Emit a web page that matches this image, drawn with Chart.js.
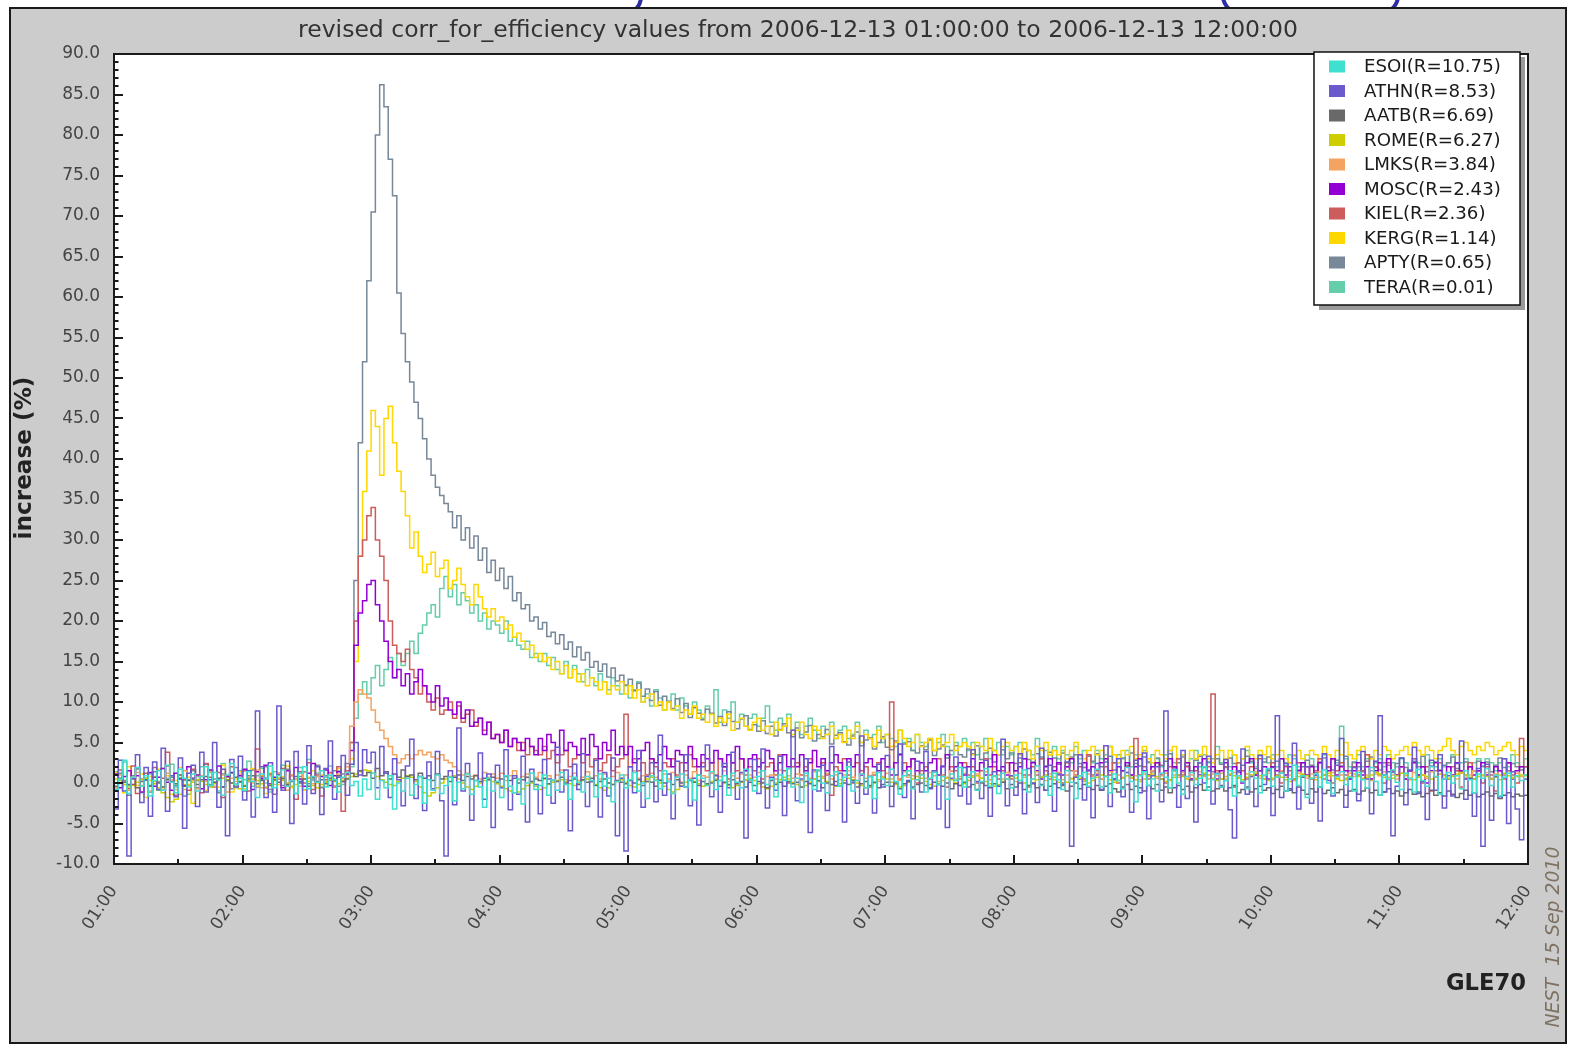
<!DOCTYPE html>
<html><head><meta charset="utf-8">
<script src="https://cdn.jsdelivr.net/npm/chart.js@4.4.0/dist/chart.umd.min.js"></script>
<style>html,body{margin:0;padding:0;background:#fff;overflow:hidden}canvas{display:block}</style>
</head><body>
<canvas id="c" width="1572" height="1047"></canvas>
<script>
// ---- data (one value every 2 minutes from 01:00 to 12:00) ----
const STEP_MIN = 2;
const hourLabels = ['01:00','02:00','03:00','04:00','05:00','06:00','07:00','08:00','09:00','10:00','11:00','12:00'];
const stationNames = ['ESOI','ATHN','AATB','ROME','LMKS','MOSC','KIEL','KERG','APTY','TERA'];
const stationR = ['10.75','8.53','6.69','6.27','3.84','2.43','2.36','1.14','0.65','0.01'];
const stationColors = ['#40E0D0','#6A5ACD','#696969','#CDCD00','#F4A460','#9400D3','#CD5C5C','#FFD700','#778899','#66CDAA'];

const ESOI = [1.2,-0.8,0.5,2.8,-1.3,0.7,1.9,-0.4,0.9,-1.6,
0.3,1.5,-0.9,2.2,0.1,-1.2,1.7,0.6,-0.5,1.1,
-1.0,0.8,2.0,-0.3,1.3,0.4,-1.5,1.0,2.4,-0.2,
0.6,-0.9,1.4,0.2,-1.8,1.1,0.5,2.1,-0.6,0.9,
1.6,-0.4,0.3,-1.3,1.2,2.0,-0.7,0.8,0.1,1.5,
-0.5,1.0,0.4,-1.1,0.7,1.3,-0.3,0.2,-1.6,0.5,
-0.8,1.2,-2.0,0.3,-0.6,0.9,-3.2,0.0,-1.0,0.6,
-1.5,-0.2,0.8,-2.5,0.4,-0.9,1.0,-1.3,-0.3,0.7,
-2.2,0.1,-0.7,1.1,-1.4,0.3,-0.5,-3.0,0.6,-1.0,
0.2,-1.8,0.9,-0.4,-1.2,0.5,-2.6,0.0,1.2,-0.8,
-0.3,1.0,-1.5,0.4,-0.9,1.3,-0.2,-2.0,0.7,0.1,
-1.1,0.8,0.3,-1.7,1.1,-0.4,0.6,-2.3,0.2,1.0,
-0.6,0.4,1.3,-1.0,0.0,-1.9,0.9,0.3,-0.7,1.5,
0.2,-1.3,0.7,1.1,-0.5,0.4,-2.1,1.0,0.6,-0.3,
1.4,-0.8,0.3,0.9,-1.5,1.2,0.1,-0.6,1.7,0.4,
-1.0,0.8,1.5,-0.2,0.5,-1.7,1.0,0.3,1.8,-0.5,
0.6,-2.4,1.2,0.4,-0.8,1.6,0.0,-1.2,0.9,1.4,
-0.4,0.7,2.0,-1.0,0.3,1.1,-0.6,0.8,-1.9,1.3,
0.5,-0.3,1.7,0.2,-1.4,0.9,1.5,-0.7,0.4,1.0,
-1.1,0.6,1.3,-0.2,0.8,-2.0,1.1,0.3,1.9,-0.5,
0.7,1.4,-0.9,0.2,1.8,-0.4,0.9,-1.3,1.2,0.5,
-0.6,1.0,0.3,1.6,-1.1,0.5,2.1,-0.3,0.8,-1.5,
1.2,0.4,-0.8,1.5,0.1,-1.9,0.9,1.3,-0.4,0.6,
1.7,-0.5,0.8,-1.2,1.1,0.3,-0.7,1.9,0.2,-2.3,
0.9,1.4,-0.3,0.5,-1.0,1.2,0.7,-0.6,1.6,0.0,
-1.4,0.8,1.3,-0.2,0.6,2.0,-0.9,0.4,1.1,-0.5,
0.3,1.5,-1.6,0.9,0.2,-0.7,1.4,0.6,-1.2,1.0,
1.8,-0.4,0.7,1.2,-1.0,0.5,2.2,-0.3,0.9,-1.8,
0.6,1.1,-0.5,1.6,0.0,-1.3,0.8,1.4,-0.2,0.7,
-1.0,1.3,0.4,-0.6,1.9,0.2,-1.5,1.0,0.5,1.6,
0.1,-0.8,1.2,0.6,-1.1,1.7,0.3,-0.4,2.0,0.8,
-1.4,0.5,1.3,0.0,0.9,-0.7,1.5,0.4,-1.2,1.1,
0.6,1.8,-0.3,1.0,-1.6,0.7,1.2,-0.5,0.9,0.3,
1.0];

const ATHN = [1.5,-3.2,2.8,-1.0,-9.0,0.6,3.5,-2.4,1.9,-4.1,
2.6,-0.8,4.3,-3.5,0.9,-1.7,3.1,-5.6,1.2,2.2,
-2.9,3.8,-1.1,0.4,5.0,-3.0,1.7,-6.5,2.9,-0.5,
3.3,-2.1,1.5,-4.2,8.9,2.0,-1.8,2.5,-3.6,9.5,
-0.9,2.7,-5.0,3.9,0.2,-2.6,4.6,-1.3,2.0,-3.9,
1.8,5.2,-2.0,0.7,3.4,-1.5,2.3,5.0,1.0,4.1,
2.5,3.8,-0.6,4.5,1.2,-1.8,3.0,0.4,-2.8,2.1,
5.4,-1.9,0.8,-3.4,2.6,-0.7,3.9,-2.2,-9.0,1.5,
-2.7,6.8,-1.0,2.4,-4.6,0.3,3.7,-2.0,1.1,-5.5,
2.2,-0.6,4.1,-3.3,0.9,-1.4,3.3,-4.8,1.7,-0.2,
-3.8,2.9,0.5,-2.5,4.4,-1.1,1.6,-5.9,2.3,-0.8,
3.6,-2.9,0.2,2.8,-4.2,1.3,-1.6,3.1,-6.5,0.6,
-8.4,2.0,-1.2,4.0,-3.0,0.8,2.5,-2.3,5.9,-1.5,
1.1,-4.4,2.7,-0.4,3.5,-2.8,0.6,-5.2,2.0,4.7,
-1.7,0.9,-3.6,2.4,-0.6,3.8,-2.0,1.3,-6.8,0.4,
2.9,-1.3,4.2,-3.1,0.7,-0.9,3.3,-4.0,1.8,6.5,
-2.2,0.5,3.0,-6.1,1.6,-1.0,2.2,-3.4,4.5,-0.3,
1.2,-4.8,2.6,0.1,-2.5,5.8,-1.4,0.8,-3.7,2.3,
-0.5,3.4,-2.9,1.0,4.8,-1.8,0.3,-4.4,2.7,-1.1,
3.9,-0.7,1.5,-3.2,2.1,-5.5,0.6,3.2,-1.6,1.9,
-2.6,4.1,0.2,-1.9,2.8,-4.1,1.4,-0.4,5.4,-2.8,
0.9,-1.5,3.6,-3.8,1.8,0.0,-2.4,4.3,-0.9,2.2,
-3.5,1.1,-0.2,2.6,-7.8,0.7,3.5,-2.1,1.6,-4.3,
2.4,-0.8,4.6,-2.9,0.5,3.0,-1.7,1.3,-3.6,2.8,
-1.2,3.7,-4.4,0.9,2.0,-2.3,8.9,-0.6,1.7,-3.0,
4.0,-1.9,0.4,-4.8,2.5,0.0,3.3,-2.6,1.2,-0.5,
2.9,-3.3,-6.8,1.5,4.2,-1.4,0.8,-2.9,3.4,-0.2,
1.6,-4.0,8.3,-1.8,2.4,-0.9,4.9,-3.2,0.7,2.0,
-2.5,1.0,-4.7,3.6,0.3,-1.6,2.2,5.5,-3.0,0.6,
1.9,-2.2,3.9,0.5,-3.8,2.7,8.3,-1.1,1.4,-6.5,
-0.4,3.1,-2.7,1.6,4.4,-1.3,0.2,-4.5,2.8,-0.9,
3.5,-3.1,0.9,-1.6,2.4,5.2,-2.0,0.6,-4.1,1.8,
-7.8,2.3,-4.6,0.8,-1.7,3.0,-5.0,1.4,-3.2,-7.0,
0.5];

const AATB = [0.3,-0.4,0.6,0.1,-0.2,0.5,-0.6,0.2,0.4,-0.3,
0.7,0.0,-0.5,0.4,0.2,-0.1,0.6,-0.4,0.3,0.5,
-0.2,0.4,0.8,-0.3,0.1,0.6,-0.5,0.3,0.0,0.7,
0.2,-0.4,0.5,0.9,-0.1,0.3,0.6,-0.3,0.4,0.1,
0.6,-0.2,0.3,0.8,0.0,0.5,-0.4,0.7,0.2,0.4,
-0.1,0.6,0.3,0.9,0.2,0.5,1.2,0.8,1.5,0.9,
1.3,0.6,1.8,0.9,1.4,0.5,1.1,0.7,1.6,0.8,
1.0,0.4,1.2,0.6,0.9,0.3,1.1,0.5,0.8,0.2,
0.7,1.0,0.3,0.8,0.5,0.9,0.2,0.6,0.4,0.7,
0.1,0.5,0.8,0.3,0.6,0.0,0.4,0.7,0.2,0.5,
0.3,0.6,-0.1,0.4,0.2,0.7,0.0,0.3,0.5,-0.2,
0.4,0.1,0.6,-0.3,0.2,0.5,0.0,-0.2,0.3,0.1,
-0.1,0.3,0.0,0.4,-0.3,0.2,0.1,-0.4,0.3,0.0,
0.2,-0.2,0.4,0.0,-0.5,0.3,0.1,-0.3,0.2,-0.1,
0.0,0.3,-0.4,0.1,-0.2,0.4,-0.1,0.2,-0.5,0.1,
-0.3,0.2,0.0,-0.6,0.3,-0.2,0.1,-0.4,0.2,-0.1,
0.1,-0.5,0.2,-0.1,-0.3,0.3,-0.6,0.0,-0.2,0.2,
-0.4,0.0,-0.2,0.3,-0.5,-0.1,0.2,-0.3,0.1,-0.6,
-0.2,0.1,-0.4,0.0,-0.7,-0.1,0.2,-0.5,-0.2,0.0,
-0.3,-0.6,0.1,-0.2,-0.4,0.0,-0.7,-0.1,-0.3,0.1,
-0.5,-0.2,-0.8,0.0,-0.3,-0.6,-0.1,-0.4,0.1,-0.7,
-0.2,-0.5,0.0,-0.8,-0.3,-0.1,-0.6,-0.2,-0.9,-0.4,
-0.1,-0.6,-0.3,-1.0,-0.4,0.0,-0.7,-0.2,-0.5,-0.8,
-0.3,-0.9,-0.4,-0.1,-0.7,-1.1,-0.5,-0.2,-0.8,-0.4,
-0.6,-1.0,-0.3,-0.7,-0.2,-0.9,-0.5,-1.2,-0.6,-0.3,
-0.8,-0.4,-1.1,-0.6,-0.2,-0.9,-0.5,-1.0,-0.7,-0.3,
-1.0,-0.6,-0.3,-1.2,-0.8,-0.5,-1.1,-0.7,-0.4,-0.9,
-0.6,-1.3,-0.8,-0.4,-1.0,-0.7,-1.2,-0.5,-0.9,-1.4,
-0.7,-1.1,-0.5,-1.3,-0.9,-0.6,-1.2,-0.8,-1.5,-1.0,
-0.8,-1.4,-1.0,-0.6,-1.2,-0.9,-1.5,-1.1,-0.7,-1.3,
-1.0,-1.6,-1.2,-0.8,-1.4,-1.1,-1.7,-1.3,-0.9,-1.5,
-1.2,-1.6,-1.0,-1.4,-1.8,-1.3,-0.9,-1.5,-1.2,-1.7,
-1.4,-1.1,-1.6,-1.3,-1.9,-1.5,-1.2,-1.7,-1.4,-1.6,
-1.5];

const ROME = [0.2,0.5,0.3,-0.2,-0.5,-0.3,0.1,0.4,0.6,0.3,
-0.1,-0.6,-1.2,-1.8,-2.3,-2.0,-1.4,-0.8,-0.3,0.1,
0.4,0.2,-0.2,-0.5,-0.1,0.3,0.6,0.4,0.0,-0.4,
-0.7,-0.3,0.2,0.5,0.3,-0.1,-0.5,-0.2,0.3,0.6,
0.4,0.0,-0.4,-0.2,0.2,0.5,0.2,-0.3,-0.6,-0.2,
0.1,0.4,0.2,-0.1,0.3,0.6,0.8,1.1,1.4,1.6,
1.5,1.2,0.8,0.4,0.1,-0.2,-0.3,0.2,0.6,0.9,
0.7,0.2,-0.5,-1.2,-1.6,-1.2,-0.6,0.0,0.5,0.8,
0.9,0.5,0.0,-0.5,-0.8,-0.4,0.0,0.3,0.4,0.2,
-0.1,-0.4,-0.7,-1.0,-1.2,-1.1,-0.7,-0.3,0.0,-0.4,
-0.8,-0.6,-0.2,0.1,0.3,0.4,0.2,-0.1,-0.3,0.0,
0.3,0.5,0.2,-0.2,-0.6,-0.9,-0.6,-0.2,0.2,0.4,
0.1,-0.3,-0.5,-0.2,0.2,0.5,0.7,0.4,0.0,-0.4,
-0.8,-1.1,-0.8,-0.3,0.1,0.4,0.2,-0.1,-0.4,-0.2,
0.2,0.5,0.3,0.0,-0.3,-0.6,-0.3,0.1,0.4,0.6,
0.3,-0.1,-0.5,-0.7,-0.4,0.0,0.4,0.7,0.5,0.1,
-0.2,-0.5,-0.3,0.1,0.5,0.8,0.6,0.2,-0.2,-0.4,
-0.1,0.3,0.6,0.4,0.0,-0.3,-0.6,-0.4,0.0,0.4,
0.7,0.5,0.1,-0.2,-0.5,-0.3,0.1,0.5,0.8,0.6,
0.2,-0.2,-0.4,-0.1,0.3,0.6,0.4,0.0,-0.3,-0.1,
0.3,0.7,0.9,0.6,0.2,-0.1,-0.4,-0.2,0.2,0.5,
0.8,0.6,0.3,0.0,-0.3,0.0,0.4,0.7,1.0,0.8,
0.4,0.1,-0.2,0.1,0.5,0.8,0.6,0.3,0.0,0.3,
0.7,1.0,0.8,0.4,0.1,0.3,0.6,0.9,0.7,0.4,
0.2,0.5,0.9,1.1,0.8,0.5,0.2,0.4,0.7,1.0,
0.8,0.5,0.3,0.6,0.9,1.2,1.0,0.6,0.3,0.5,
0.8,1.1,0.9,0.6,0.4,0.7,1.0,1.2,0.9,0.5,
0.3,0.6,0.9,0.7,0.4,0.2,0.5,0.8,1.1,0.9,
0.6,0.4,0.7,1.0,1.2,0.9,0.5,0.3,0.6,0.8,
1.1,0.8,0.5,0.7,1.0,1.3,1.1,0.7,0.4,0.6,
0.9,1.2,1.0,0.6,0.4,0.7,1.0,0.8,0.5,0.8,
1.1,0.9,0.6,0.8,1.1,1.3,1.0,0.7,0.5,0.8,
1.0,0.8,0.5,0.7,1.0,1.2,0.9,0.6,0.8,1.0,
0.9];

const LMKS = [0.4,-0.6,1.0,0.2,-0.9,0.7,1.3,-0.3,0.5,-1.0,
0.8,0.1,-0.5,1.2,0.4,-0.8,0.6,1.5,-0.2,0.3,
-0.7,0.9,0.2,1.4,-0.4,0.5,1.0,-1.1,0.6,0.2,
1.1,-0.3,0.7,0.0,1.6,-0.6,0.4,0.9,-0.2,1.2,
0.3,-0.9,1.0,0.5,-0.4,1.3,0.6,-0.1,0.8,1.5,
0.2,0.9,-0.3,1.1,0.6,2.0,7.0,10.0,11.5,11.0,
10.5,9.0,7.5,6.5,5.5,4.5,3.5,2.5,3.0,3.5,
3.0,3.5,4.0,3.5,3.8,3.2,3.0,3.5,2.8,2.5,
2.0,1.5,1.0,1.2,0.8,1.0,0.5,1.3,0.7,1.1,
0.6,1.2,0.3,0.9,1.5,0.4,0.8,1.1,0.2,0.7,
1.3,0.5,0.9,0.1,1.0,1.6,0.4,0.8,1.2,0.3,
0.7,1.4,0.2,0.9,0.5,1.1,0.0,0.8,1.3,0.6,
1.0,0.3,1.5,0.6,0.9,0.2,1.2,0.7,0.4,1.1,
0.5,1.3,0.8,0.1,1.0,0.6,1.4,0.3,0.9,0.7,
1.2,0.4,0.8,1.5,0.2,0.9,0.6,1.1,0.3,1.0,
0.7,1.3,0.1,0.8,1.0,0.5,1.6,0.4,0.9,0.6,
1.1,0.3,0.9,0.6,1.4,0.2,0.8,1.2,0.5,1.0,
0.4,1.0,1.5,0.7,0.3,1.1,0.6,0.9,1.3,0.2,
0.8,1.2,0.5,1.0,0.3,1.4,0.7,0.9,0.4,1.1,
0.6,1.3,0.9,0.2,1.0,0.7,1.5,0.5,0.8,1.2,
0.3,0.9,1.1,0.6,1.4,0.4,0.8,1.0,0.5,1.3,
0.9,0.2,1.2,0.7,1.0,0.5,1.4,0.8,0.3,1.1,
0.7,1.3,0.4,1.0,0.6,1.5,0.9,0.2,1.1,0.8,
1.2,0.5,0.9,1.4,0.3,1.0,0.7,1.3,0.6,0.9,
0.4,1.1,0.8,1.5,0.6,0.9,1.2,0.3,1.0,0.7,
1.3,0.6,1.0,0.4,1.4,0.8,0.5,1.1,0.9,1.2,
0.5,1.0,1.3,0.7,0.2,1.1,0.8,1.4,0.6,0.9,
1.2,0.4,0.9,1.5,0.7,1.0,0.3,1.2,0.8,0.6,
1.1,0.7,1.4,0.5,0.9,1.3,0.6,1.0,0.4,1.2,
0.8,1.5,0.6,1.0,0.3,1.1,0.9,1.4,0.7,1.0,
0.5,1.2,0.9,0.4,1.3,0.8,1.0,0.6,1.4,0.7,
1.1,0.6,1.3,0.9,0.5,1.2,0.7,1.0,1.5,0.8,
0.9,1.3,0.6,1.1,0.4,1.0,1.4,0.7,1.2,0.8,
1.0];

const MOSC = [0.3,1.1,-0.6,0.8,1.5,-0.2,0.9,-1.1,0.4,1.3,
-0.4,0.7,1.8,0.1,-0.9,1.2,0.5,-0.3,2.0,0.6,
1.0,-0.7,0.4,1.6,0.0,2.1,-0.5,0.8,1.3,-0.2,
0.9,1.7,0.2,-0.8,1.4,0.6,2.2,-0.1,0.7,1.0,
-0.6,1.5,0.3,1.9,0.5,-0.4,1.2,2.4,0.1,0.8,
1.6,-0.3,0.9,1.4,0.2,1.1,4.0,17.0,21.0,22.5,
24.5,25.0,22.0,20.0,17.5,15.0,13.0,14.0,12.0,13.5,
11.0,12.5,14.0,12.0,11.0,10.0,12.0,9.5,10.5,9.0,
8.5,10.0,8.0,9.0,7.0,7.5,8.0,6.0,7.5,5.5,
6.0,5.0,6.5,4.5,5.5,5.0,4.0,5.5,4.5,3.5,
5.5,4.0,6.0,5.0,3.5,6.5,4.0,5.0,4.5,3.5,
5.5,3.5,6.0,4.5,3.0,5.0,4.0,6.5,3.5,4.5,
3.5,4.5,2.5,3.0,4.0,5.0,3.0,2.5,3.5,4.5,
3.0,2.0,4.0,3.5,2.5,4.5,3.0,2.0,3.5,3.0,
2.5,4.0,3.0,2.0,3.5,2.5,4.5,3.0,1.5,3.0,
3.5,2.0,2.5,4.0,3.0,1.5,2.5,3.5,2.0,3.0,
2.0,3.5,1.5,2.5,4.0,2.0,3.0,1.5,2.5,3.5,
2.5,1.5,3.0,2.0,3.5,1.0,2.5,3.0,2.0,1.5,
3.0,2.0,1.0,2.5,3.5,1.5,2.0,3.0,1.5,2.5,
1.5,2.5,3.0,1.0,2.0,3.5,1.5,2.0,2.5,1.0,
2.0,3.0,1.5,2.5,1.0,2.0,3.5,1.5,2.0,1.0,
2.5,1.5,2.0,3.0,1.0,2.5,1.5,0.5,2.0,3.0,
1.5,2.5,1.0,2.0,3.0,1.5,0.5,2.5,1.5,2.0,
1.0,2.5,3.0,1.5,0.5,2.0,1.5,2.5,1.0,2.0,
3.0,1.5,1.0,2.0,2.5,0.5,1.5,3.0,2.0,1.0,
1.5,2.5,0.5,2.0,1.0,3.0,1.5,2.0,0.5,1.5,
2.5,1.0,2.0,1.5,0.0,2.5,3.0,1.0,1.5,2.0,
0.5,2.0,1.5,3.0,1.0,2.0,0.5,1.5,2.5,1.0,
2.0,1.0,2.5,0.5,1.5,3.0,1.0,2.0,1.5,0.5,
1.5,2.5,1.0,2.0,0.5,1.5,2.5,1.0,3.0,1.5,
1.0,2.0,0.5,1.5,2.5,1.0,2.0,0.0,1.5,2.5,
1.5,0.5,2.0,1.0,2.5,1.5,0.5,2.0,1.0,1.5,
2.5,1.0,0.5,2.0,1.5,1.0,2.5,0.5,1.5,2.0,
1.0];

const KIEL = [0.8,-1.0,1.6,0.2,-0.7,2.1,-1.3,0.5,1.2,-0.4,
1.9,-0.8,0.6,3.8,0.1,-1.5,1.0,0.4,-0.9,1.7,
0.3,-1.2,2.4,0.7,-0.5,1.3,-1.8,0.9,2.0,-0.2,
0.6,1.5,-1.0,0.2,4.2,0.8,-0.6,1.1,-1.4,0.5,
1.8,-0.3,0.9,-2.0,1.4,0.0,2.5,-0.8,1.0,-1.6,
0.4,1.3,-0.5,2.0,-3.5,1.5,5.0,20.0,28.0,30.0,
33.0,34.0,30.0,28.0,25.0,20.0,17.0,16.0,15.0,16.5,
14.0,13.0,11.0,12.0,10.0,9.0,10.5,8.5,9.0,10.0,
8.0,9.5,7.5,8.5,9.0,7.0,8.0,6.5,7.5,5.5,
6.0,5.0,6.5,4.5,5.5,4.0,5.0,3.5,4.5,4.0,
3.5,4.5,3.0,4.0,2.5,3.5,4.0,2.0,3.0,3.5,
2.5,3.5,2.0,3.0,1.5,2.5,3.5,1.5,2.0,3.0,
8.5,2.0,3.0,1.5,2.5,1.0,3.0,2.0,1.5,2.5,
2.0,3.0,1.0,2.5,1.5,3.5,2.0,1.0,2.5,1.5,
2.5,1.0,3.0,2.0,0.5,2.5,1.5,3.0,1.0,2.0,
1.5,3.0,0.5,2.0,2.5,1.0,3.5,1.5,0.0,2.0,
2.5,1.0,2.0,3.0,0.5,1.5,2.5,1.0,-1.5,2.0,
1.5,3.0,1.0,0.0,2.5,1.5,2.0,-0.5,1.0,2.5,
1.5,2.0,10.0,1.0,0.5,2.5,1.0,3.0,0.0,1.5,
2.0,0.5,1.5,3.0,1.0,-0.5,2.0,1.5,0.5,2.5,
1.0,2.0,0.0,1.5,3.0,1.0,2.0,0.5,1.5,2.5,
0.5,1.5,2.5,1.0,-0.5,2.0,1.0,3.0,1.5,0.5,
2.0,1.0,0.0,2.5,1.5,1.0,2.0,0.5,3.5,1.0,
1.5,0.5,2.0,1.0,2.5,0.0,1.5,2.0,1.0,5.5,
1.0,2.0,0.5,1.5,2.5,1.0,0.0,2.0,1.5,3.0,
1.0,2.0,0.5,1.5,2.5,1.0,2.0,11.0,1.5,0.5,
2.0,1.0,-0.5,2.5,1.5,0.5,2.0,1.0,3.0,0.5,
1.5,2.5,1.0,0.0,2.0,1.5,0.5,2.5,1.0,2.0,
0.5,1.5,3.0,1.0,2.0,0.0,1.5,2.5,1.0,0.5,
2.0,1.0,1.5,3.5,0.5,2.0,1.0,0.0,2.5,1.5,
1.0,2.0,0.5,1.5,3.0,1.0,0.0,2.0,-1.0,1.5,
2.5,1.0,0.5,2.0,1.5,-0.5,1.0,2.5,0.5,1.5,
0.0,2.0,1.0,-1.0,1.5,0.5,2.5,1.0,0.0,5.5,
2.0];

const KERG = [-0.5,1.3,0.4,-1.2,2.0,0.6,-0.3,1.1,-1.8,0.8,
0.2,1.7,-0.6,0.9,-1.4,0.3,1.9,-0.2,0.7,-2.5,
1.0,0.4,-0.9,1.6,0.1,-0.5,2.2,0.8,-1.1,0.5,
1.4,-0.7,0.3,1.8,-0.4,0.9,-1.3,1.2,0.6,-0.2,
0.8,2.1,-0.6,0.4,1.3,-0.9,0.7,1.5,0.0,1.0,
-0.4,1.2,0.5,1.8,0.3,1.0,3.0,15.0,28.0,36.0,
41.0,46.0,44.0,38.0,45.0,46.5,42.0,38.5,36.0,33.0,
29.0,31.0,28.0,26.0,27.0,28.5,25.5,26.5,27.5,24.0,
25.0,26.5,24.5,23.0,22.0,24.5,23.0,21.5,20.5,21.5,
20.0,20.5,19.0,19.5,18.0,18.5,17.5,16.5,17.0,15.5,
16.0,15.0,15.5,14.0,15.0,13.5,14.5,13.0,14.0,12.5,
13.5,12.0,13.0,12.5,11.5,12.5,11.0,12.0,11.5,12.5,
11.0,12.0,10.5,11.5,10.0,10.5,11.0,9.5,10.0,9.0,
10.0,9.0,9.5,8.0,9.0,8.5,9.5,8.0,8.5,7.5,
8.5,7.0,8.0,7.5,8.5,6.5,7.5,8.0,7.0,6.5,
7.5,8.0,6.5,7.0,6.0,7.5,6.5,7.0,8.0,6.0,
6.5,7.5,6.0,5.5,7.0,6.5,5.5,6.0,7.0,5.5,
6.0,5.0,6.5,5.5,7.0,5.0,6.0,5.5,4.5,6.5,
5.5,6.0,4.5,5.0,6.5,5.5,4.5,5.0,6.0,4.5,
5.0,5.5,4.0,5.5,4.5,5.0,6.0,4.0,4.5,5.0,
4.5,3.5,5.0,4.5,4.0,5.5,4.0,3.5,4.5,5.0,
4.0,4.5,3.5,5.0,4.0,3.0,4.5,4.0,5.0,3.5,
4.0,3.5,4.5,3.0,4.0,5.0,3.5,3.0,4.0,4.5,
3.5,4.0,3.0,4.5,3.5,2.5,4.0,3.5,4.5,3.0,
3.5,4.5,3.0,2.5,4.0,3.5,3.0,4.0,4.5,3.0,
3.5,2.5,4.0,3.0,3.5,4.5,3.0,2.5,3.5,4.0,
3.0,4.0,3.5,2.5,3.0,4.5,3.5,3.0,4.0,3.5,
4.5,3.0,3.5,4.0,3.0,2.5,3.5,4.0,3.0,3.5,
4.0,3.5,3.0,4.5,3.5,3.0,4.0,3.5,5.0,3.5,
3.0,4.0,4.5,3.5,3.0,4.0,3.5,4.5,4.0,3.0,
3.5,4.0,4.5,3.5,5.0,4.0,3.5,4.5,4.0,3.0,
4.0,4.5,5.5,4.0,3.5,4.5,5.0,4.0,3.5,4.5,
4.0,5.0,4.5,3.5,4.0,4.5,5.0,4.0,3.5,4.5,
4.0];

const APTY = [0.5,-0.8,1.2,0.3,-1.5,0.9,1.8,-0.4,0.6,-1.1,
1.4,0.2,-0.9,2.1,0.7,-0.3,1.0,-1.6,0.4,1.5,
-0.6,0.8,2.3,-0.2,0.5,-1.2,1.1,0.3,-0.7,1.9,
0.1,-1.0,0.9,1.6,-0.5,0.4,2.0,-0.8,0.6,1.2,
-0.3,1.7,0.2,-1.3,0.8,1.4,-0.1,0.5,2.2,-0.6,
0.9,0.3,1.5,-0.4,1.1,2.4,5.0,25.0,42.0,52.0,
62.0,70.5,80.0,86.2,83.5,77.0,72.5,60.5,55.5,52.0,
49.5,47.0,45.0,42.5,40.0,38.0,36.5,35.5,34.5,33.5,
31.5,33.0,30.0,31.5,29.0,30.5,27.5,29.0,26.0,27.5,
25.0,26.5,24.0,25.5,22.5,23.5,21.5,22.0,20.0,20.5,
19.0,19.8,18.1,18.6,17.2,18.3,16.5,17.4,15.6,16.8,
15.2,16.1,14.3,15.0,13.8,14.7,13.1,14.2,12.6,13.3,
12.1,12.8,11.4,12.3,10.7,11.6,10.2,11.3,9.6,10.7,
10.1,9.2,10.4,8.7,9.8,8.1,9.3,8.6,7.8,9.1,
8.6,7.4,8.2,7.1,8.8,7.6,6.7,7.9,8.3,6.6,
7.2,6.4,7.7,6.1,7.0,5.8,6.6,7.3,6.2,5.7,
6.8,5.6,6.3,7.1,5.2,6.0,5.7,6.6,4.8,5.9,
6.2,5.1,4.7,5.8,6.3,4.6,5.3,5.6,4.2,5.0,
5.7,4.4,4.1,5.2,3.6,4.8,5.1,4.0,3.7,4.6,
4.1,5.3,3.4,4.2,4.7,3.1,4.0,4.6,3.5,3.2,
4.2,3.6,4.6,2.9,3.7,4.3,2.6,3.5,4.1,3.0,
3.7,2.4,3.1,4.2,2.9,2.6,3.6,3.2,2.1,3.8,
3.1,2.3,3.7,2.0,3.2,3.5,2.4,1.9,3.3,2.7,
3.6,2.0,2.6,3.3,1.6,2.5,3.1,2.2,3.7,2.4,
2.1,3.2,2.6,1.4,3.1,2.2,2.7,3.6,1.9,2.5,
3.2,2.1,1.5,2.8,3.3,1.9,2.6,1.4,3.0,2.3,
1.9,3.1,2.4,1.3,2.2,3.3,2.7,1.8,1.5,2.6,
3.2,1.9,2.7,1.4,2.1,2.5,3.4,1.6,2.0,2.8,
2.2,1.3,2.6,3.1,1.9,1.6,2.8,2.1,3.3,1.5,
2.6,2.0,1.4,2.7,3.2,1.9,1.6,2.5,2.2,1.3,
2.4,3.1,1.9,1.5,2.7,2.0,3.3,1.4,2.1,2.6,
1.6,2.2,2.5,3.2,1.8,1.4,2.6,2.0,1.5,2.7,
2.1,2.6,1.4,2.2,3.1,1.9,1.5,2.4,2.0,1.6,
2.0];

const TERA = [-0.7,1.4,0.5,2.6,-0.3,0.9,1.7,-1.2,0.4,1.1,
0.2,-0.9,1.8,0.6,2.3,-0.5,1.0,0.3,-1.4,1.6,
0.8,2.0,-0.2,1.3,0.1,-1.0,2.4,0.7,1.2,-0.6,
1.5,0.4,2.7,-0.4,0.9,1.8,0.0,-1.1,1.4,0.6,
2.2,-0.3,1.0,0.5,1.9,-0.8,2.9,0.3,1.2,-0.5,
0.7,2.1,0.4,1.5,-0.2,1.0,2.0,8.0,11.0,12.5,
11.0,13.0,14.5,12.0,14.0,15.5,13.0,16.0,14.5,16.0,
17.5,16.0,18.5,19.5,21.0,22.0,20.5,24.0,25.5,23.0,
24.5,22.0,23.5,22.5,21.0,22.0,20.0,21.0,19.0,20.0,
19.5,18.5,20.0,17.5,18.0,17.0,16.5,17.5,15.5,16.0,
15.0,16.0,14.5,15.5,14.0,13.5,15.0,13.0,14.5,13.5,
12.5,14.0,13.0,12.0,13.5,12.5,11.5,13.0,12.0,11.0,
12.0,10.5,11.5,12.5,10.0,11.0,9.5,11.5,10.5,9.0,
10.0,11.0,9.0,10.5,9.5,8.5,10.0,9.0,8.0,9.5,
8.5,11.5,7.5,9.0,8.0,10.0,7.5,8.5,7.0,8.0,
8.5,7.0,8.0,9.5,7.5,6.5,8.0,7.0,8.5,6.5,
7.5,6.0,7.0,8.0,6.5,5.5,7.0,6.0,7.5,5.5,
6.5,7.0,5.5,6.0,7.5,5.0,6.5,5.5,6.0,7.0,
5.0,6.0,5.5,4.5,6.5,5.0,5.5,4.0,6.0,5.0,
4.5,5.5,4.0,5.0,6.0,4.5,3.5,5.0,4.5,5.5,
4.0,5.0,3.5,4.5,5.5,3.0,4.0,5.0,3.5,4.5,
3.5,4.5,5.0,3.0,4.0,3.5,5.5,3.0,4.0,3.5,
4.5,3.0,4.0,3.5,2.5,4.5,3.0,4.0,3.5,2.5,
4.0,3.0,3.5,4.5,2.5,3.5,3.0,4.0,2.0,3.5,
3.0,4.0,2.5,3.5,3.0,2.0,3.5,4.0,2.5,3.0,
3.5,2.5,3.0,4.0,2.0,3.5,2.5,3.0,4.5,2.5,
3.0,2.0,3.5,2.5,3.0,4.0,2.5,2.0,3.5,3.0,
2.5,3.5,2.0,3.0,2.5,3.5,3.0,2.0,2.5,3.5,
3.0,2.0,2.5,3.5,2.0,3.0,2.5,7.0,3.0,2.0,
2.5,3.5,2.0,3.0,1.5,2.5,3.0,2.0,3.5,2.5,
2.0,3.0,2.5,1.5,3.0,2.5,2.0,3.5,2.5,2.0,
3.0,2.0,2.5,3.5,1.5,2.5,3.0,2.0,2.5,3.0,
2.0,3.0,2.5,1.5,2.5,3.0,2.0,3.5,2.5,2.0,
3.0];

const seriesValues = [ESOI, ATHN, AATB, ROME, LMKS, MOSC, KIEL, KERG, APTY, TERA];

// ---- drawing ----
function fitSize(ctx, text, style, family, targetW) {
  ctx.font = style + ' 100px ' + family;
  return 100 * targetW / ctx.measureText(text).width;
}

const framePlugin = {
  id: 'frame',
  beforeDraw(chart) {
    const ctx = chart.ctx, a = chart.chartArea;
    ctx.save();
    ctx.fillStyle = '#ffffff';
    ctx.fillRect(0, 0, chart.width, chart.height);
    // hand-drawn blue marks cut off at top
    ctx.strokeStyle = '#2b2ba3'; ctx.lineWidth = 4; ctx.lineCap = 'round';
    ctx.beginPath(); ctx.moveTo(641, -2); ctx.quadraticCurveTo(640, 9, 629, 13); ctx.stroke();
    ctx.beginPath(); ctx.moveTo(1223, -2); ctx.quadraticCurveTo(1225, 8, 1233, 11); ctx.stroke();
    ctx.beginPath(); ctx.moveTo(1398, -2); ctx.quadraticCurveTo(1396, 8, 1388, 11); ctx.stroke();
    // grey panel
    ctx.fillStyle = '#cccccc';
    ctx.fillRect(10, 8, 1556, 1035);
    ctx.strokeStyle = '#1a1a1a'; ctx.lineWidth = 2;
    ctx.strokeRect(10, 8, 1556, 1035);
    // plot background
    ctx.fillStyle = '#ffffff';
    ctx.fillRect(a.left, a.top, a.right - a.left, a.bottom - a.top);
    // title
    const title = 'revised corr_for_efficiency values from 2006-12-13 01:00:00 to 2006-12-13 12:00:00';
    const fs = fitSize(ctx, title, '', '"DejaVu Sans"', 1000);
    ctx.font = fs.toFixed(2) + 'px "DejaVu Sans"';
    ctx.fillStyle = '#333333'; ctx.textAlign = 'center'; ctx.textBaseline = 'middle';
    ctx.fillText(title, 798, 31);
    // y axis title
    const yt = 'increase (%)';
    const fy = fitSize(ctx, yt, 'bold', '"DejaVu Sans"', 163);
    ctx.save();
    ctx.translate(25, 458); ctx.rotate(-Math.PI / 2);
    ctx.font = 'bold ' + fy.toFixed(2) + 'px "DejaVu Sans"';
    ctx.fillStyle = '#222222';
    ctx.fillText(yt, 0, 0);
    ctx.restore();
    // GLE70
    const fg = fitSize(ctx, 'GLE70', 'bold', '"DejaVu Sans"', 80);
    ctx.font = 'bold ' + fg.toFixed(2) + 'px "DejaVu Sans"';
    ctx.fillStyle = '#222222';
    ctx.fillText('GLE70', 1486, 984);
    // NEST stamp
    const ns = 'NEST  15 Sep 2010';
    const fn = fitSize(ctx, ns, 'italic', '"DejaVu Sans"', 181);
    ctx.save();
    ctx.translate(1554, 937); ctx.rotate(-Math.PI / 2);
    ctx.font = 'italic ' + fn.toFixed(2) + 'px "DejaVu Sans"';
    ctx.fillStyle = '#7d7262';
    ctx.fillText(ns, 0, 0);
    ctx.restore();
    ctx.restore();
  },
  afterDatasetsDraw(chart) {
    const ctx = chart.ctx, a = chart.chartArea;
    const xs = chart.scales.x, ys = chart.scales.y;
    ctx.save();
    ctx.strokeStyle = '#1a1a1a';
    ctx.lineWidth = 2;
    ctx.strokeRect(a.left, a.top, a.right - a.left, a.bottom - a.top);
    ctx.lineWidth = 2;
    ctx.beginPath();
    for (let v = ys.min; v <= ys.max; v += 1) {
      const y = Math.round(ys.getPixelForValue(v));
      const len = (Math.round(v) % 5 === 0) ? 9 : 4.5;
      ctx.moveTo(a.left, y); ctx.lineTo(a.left + len, y);
    }
    for (let m = xs.min; m <= xs.max; m += 30) {
      const x = Math.round(xs.getPixelForValue(m));
      const len = (m % 60 === 0) ? 9 : 5;
      ctx.moveTo(x, a.bottom); ctx.lineTo(x, a.bottom - len);
    }
    ctx.stroke();
    // legend
    const lx = 1314, ly = 52, lw = 206, lh = 253;
    ctx.fillStyle = '#9a9a9a';
    ctx.fillRect(lx + 5, ly + 5, lw, lh);
    ctx.fillStyle = '#ffffff';
    ctx.fillRect(lx, ly, lw, lh);
    ctx.strokeStyle = '#111111'; ctx.lineWidth = 1.5;
    ctx.strokeRect(lx, ly, lw, lh);
    const fl = fitSize(ctx, 'ESOI(R=10.75)', '', '"DejaVu Sans"', 137);
    ctx.font = fl.toFixed(2) + 'px "DejaVu Sans"';
    ctx.textAlign = 'left'; ctx.textBaseline = 'middle';
    chart.data.datasets.forEach((ds, i) => {
      const cy = 66.5 + i * 24.5;
      ctx.fillStyle = ds.borderColor;
      ctx.fillRect(1329, cy - 6, 16, 12);
      ctx.fillStyle = '#1a1a1a';
      ctx.fillText(ds.label, 1364, cy + 1);
    });
    ctx.restore();
  }
};

const datasets = seriesValues.map((vals, k) => ({
  label: stationNames[k] + '(R=' + stationR[k] + ')',
  data: vals.map((v, i) => ({ x: i * STEP_MIN, y: v })),
  borderColor: stationColors[k],
  backgroundColor: stationColors[k],
  borderWidth: 1.5,
  pointRadius: 0,
  stepped: 'after',
  fill: false
}));

const tickFont = { family: '"DejaVu Sans"', size: 17 };

new Chart(document.getElementById('c').getContext('2d'), {
  type: 'line',
  data: { datasets },
  options: {
    responsive: false,
    animation: false,
    devicePixelRatio: 1,
    events: [],
    layout: { padding: { left: 0, right: 44, top: 54, bottom: 0 } },
    plugins: { legend: { display: false }, title: { display: false }, tooltip: { enabled: false } },
    scales: {
      x: {
        type: 'linear', min: 0, max: 660,
        afterFit(s) { s.height = 183; },
        grid: { display: false, drawTicks: false },
        border: { display: false },
        ticks: {
          stepSize: 60, autoSkip: false, minRotation: 56, maxRotation: 56, padding: 18,
          color: '#444444', font: tickFont,
          callback: (v) => hourLabels[Math.round(v / 60)]
        }
      },
      y: {
        min: -10, max: 90,
        afterFit(s) { s.width = 114; },
        grid: { display: false, drawTicks: false },
        border: { display: false },
        ticks: {
          stepSize: 5, padding: 14, color: '#444444', font: tickFont,
          callback: (v) => Number(v).toFixed(1)
        }
      }
    }
  },
  plugins: [framePlugin]
});
</script>
</body></html>
